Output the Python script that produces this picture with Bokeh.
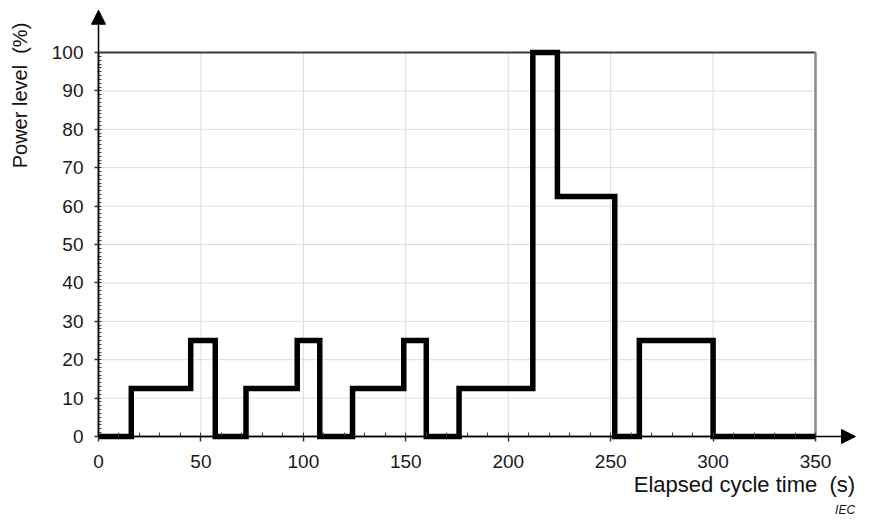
from bokeh.plotting import figure
from bokeh.models import Arrow, NormalHead, Label, FixedTicker, Range1d, LinearAxis
from bokeh.embed import file_html
from bokeh.resources import INLINE
import math

# Step profile: time at which each level starts (s) and the power level (%)
times = [0, 16, 45, 57, 72, 97, 108, 124, 149, 160, 176, 212, 224, 252, 264, 300, 350]
levels = [0, 12.5, 25, 0, 12.5, 25, 0, 12.5, 25, 0, 12.5, 100, 62.5, 0, 25, 0, 0]

x_ticks = [0, 50, 100, 150, 200, 250, 300, 350]
y_ticks = [0, 10, 20, 30, 40, 50, 60, 70, 80, 90, 100]
x_minor = list(range(0, 351, 10))
y_minor = list(range(0, 101, 1))

x_max, y_max = 350, 100

x_label = "Elapsed cycle time\u00a0 (s)"
y_label = "Power level\u00a0 (%)"
mark = "IEC"

FONT = "Liberation Sans"

p = figure(width=856, height=516, output_backend="svg", toolbar_location=None,
           x_range=Range1d(-47.84, 370.0), y_range=Range1d(-20.83, 113.54),
           x_axis_location=None, y_axis_location=None,
           min_border_left=0, min_border_right=0, min_border_top=0, min_border_bottom=0)
p.outline_line_color = None
p.background_fill_color = "white"
p.grid.visible = False

# grid lines (drawn only over the data area)
gx = [t for t in x_ticks if t > 0]
gy = [t for t in y_ticks if t > 0]
p.segment(x0=gx, y0=[0] * len(gx), x1=gx, y1=[y_max] * len(gx), line_color="#dcdcdc", line_width=1)
p.segment(x0=[0] * len(gy), y0=gy, x1=[x_max] * len(gy), y1=gy, line_color="#dcdcdc", line_width=1)

# frame borders at top / right
p.segment(x0=[0], y0=[y_max], x1=[x_max], y1=[y_max], line_color="#3a3a3a", line_width=2)
p.segment(x0=[x_max], y0=[0], x1=[x_max], y1=[y_max], line_color="#8a8a8a", line_width=2.5)

# axes fixed at zero
xa = LinearAxis(fixed_location=0, bounds=(0, x_max),
                ticker=FixedTicker(ticks=x_ticks, minor_ticks=x_minor))
ya = LinearAxis(fixed_location=0, bounds=(0, y_max),
                ticker=FixedTicker(ticks=y_ticks, minor_ticks=y_minor))
for ax in (xa, ya):
    ax.axis_line_color = "black"
    ax.axis_line_width = 1.5
    ax.major_tick_line_color = "#333333"
    ax.minor_tick_line_color = "#444444"
    ax.major_tick_line_width = 1.5
    ax.major_label_text_font = FONT
    ax.major_label_text_font_size = "19px"
    ax.major_label_text_color = "#1a1a1a"
xa.major_tick_in = 0
xa.major_tick_out = 5
xa.minor_tick_in = 4
xa.minor_tick_out = 0
xa.major_label_standoff = 13
ya.major_tick_in = 0
ya.major_tick_out = 4
ya.minor_tick_in = 3
ya.minor_tick_out = 1
ya.major_label_standoff = 11
p.add_layout(xa, "below")
p.add_layout(ya, "left")

# step curve
p.step(times, levels, mode="after", line_color="black", line_width=5.5, line_join="miter")

# axis arrows
p.add_layout(Arrow(x_start=0, y_start=0, x_end=369.5, y_end=0, line_color="black", line_width=1.5,
                   end=NormalHead(size=14, fill_color="black", line_color="black")))
p.add_layout(Arrow(x_start=0, y_start=0, x_end=0, y_end=111, line_color="black", line_width=1.5,
                   end=NormalHead(size=14, fill_color="black", line_color="black")))

# axis titles
p.add_layout(Label(x=-38.3, y=88.8, text=y_label, angle=math.pi / 2, text_align="center",
                   text_baseline="alphabetic", text_font=FONT, text_font_size="20px", text_color="#111111"))
p.add_layout(Label(x=369.3, y=-12.6, text=x_label, text_align="right", text_baseline="alphabetic",
                   text_font=FONT, text_font_size="22px", text_color="#111111"))
p.add_layout(Label(x=369.3, y=-19.1, text=mark, text_align="right", text_baseline="alphabetic",
                   text_font=FONT, text_font_size="12px", text_font_style="italic", text_color="#111111"))

open("out.html", "w").write(file_html(p, INLINE))
